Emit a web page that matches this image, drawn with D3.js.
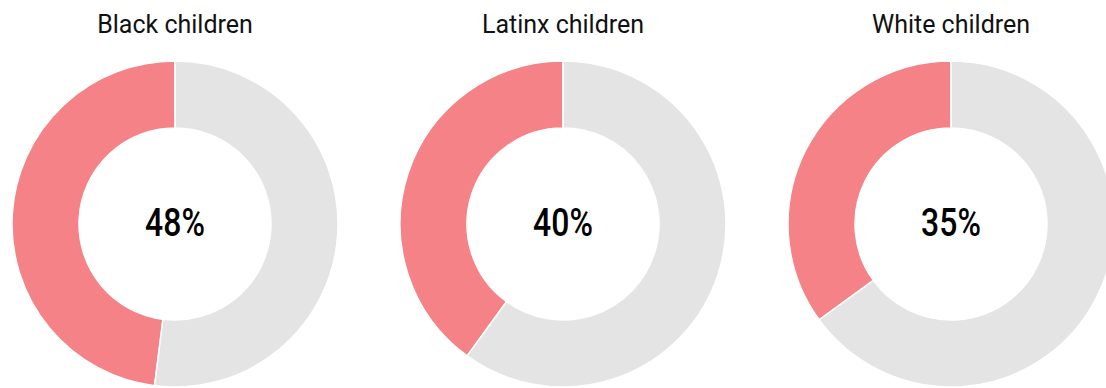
<!DOCTYPE html>
<html>
<head>
<meta charset="utf-8">
<script src="https://cdn.jsdelivr.net/npm/d3@7"></script>
<style>
  html, body { margin: 0; padding: 0; background: #fff; }
  svg { display: block; }
</style>
</head>
<body>
<div id="chart"></div>
<script>
/* Share of children, by group */
const groups = ["Black children", "Latinx children", "White children"];
const shares = [48, 40, 35];
const labels = ["48%", "40%", "35%"];

function renderDonuts() {
    const width = 1106;
    const height = 388;
    const outerR = 163;
    const innerR = 96;
    const cy = 224;

    const svg = d3.select("#chart").append("svg")
        .attr("width", width)
        .attr("height", height);

    const x = d3.scalePoint()
        .domain(groups)
        .range([175, 951]);

    const pie = d3.pie()
        .sort(null)
        .startAngle(0)
        .endAngle(-2 * Math.PI);

    const arc = d3.arc()
        .innerRadius(innerR)
        .outerRadius(outerR);

    const colors = ["#f48287", "#e4e4e4"];

    groups.forEach((g, i) => {
        const cell = svg.append("g")
            .attr("transform", `translate(${x(g)},${cy})`);

        cell.selectAll("path")
            .data(pie([shares[i], 100 - shares[i]]))
            .enter()
            .append("path")
            .attr("d", arc)
            .attr("fill", (d, j) => colors[j])
            .attr("stroke", "#fff")
            .attr("stroke-width", 1.5);

        // condensed look for the centre figure
        cell.append("text")
            .attr("transform", "translate(0,12) scale(0.84,1)")
            .attr("text-anchor", "middle")
            .attr("font-family", "Roboto, sans-serif")
            .attr("font-size", 38)
            .attr("font-weight", 500)
            .attr("fill", "#000")
            .text(labels[i]);

        svg.append("text")
            .attr("x", x(g))
            .attr("y", 33)
            .attr("text-anchor", "middle")
            .attr("font-family", "Roboto, sans-serif")
            .attr("font-size", 25)
            .attr("fill", "#111")
            .text(g);
    });
}

renderDonuts();
</script>
</body>
</html>
